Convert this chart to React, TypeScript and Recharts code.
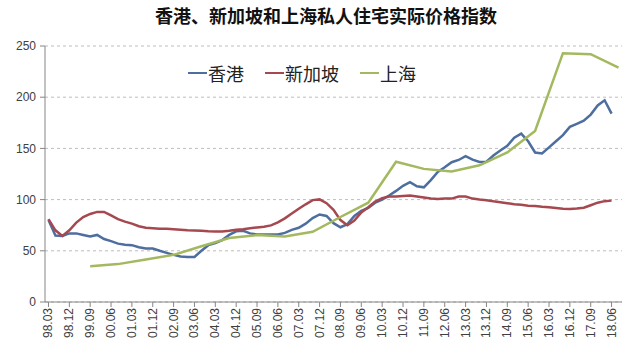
import React from 'react';
import { LineChart, Line, XAxis, YAxis, CartesianGrid } from 'recharts';

const quarters = [
  '98.03', '98.06', '98.09', '98.12', '99.03', '99.06', '99.09', '99.12',
  '00.03', '00.06', '00.09', '00.12', '01.03', '01.06', '01.09', '01.12',
  '02.03', '02.06', '02.09', '02.12', '03.03', '03.06', '03.09', '03.12',
  '04.03', '04.06', '04.09', '04.12', '05.03', '05.06', '05.09', '05.12',
  '06.03', '06.06', '06.09', '06.12', '07.03', '07.06', '07.09', '07.12',
  '08.03', '08.06', '08.09', '08.12', '09.03', '09.06', '09.09', '09.12',
  '10.03', '10.06', '10.09', '10.12', '11.03', '11.06', '11.09', '11.12',
  '12.03', '12.06', '12.09', '12.12', '13.03', '13.06', '13.09', '13.12',
  '14.03', '14.06', '14.09', '14.12', '15.03', '15.06', '15.09', '15.12',
  '16.03', '16.06', '16.09', '16.12', '17.03', '17.06', '17.09', '17.12',
  '18.03', '18.06', '18.09',
];

const tickLabels = [
  '98.03', '98.12', '99.09', '00.06', '01.03', '01.12', '02.09', '03.06',
  '04.03', '04.12', '05.09', '06.06', '07.03', '07.12', '08.09', '09.06',
  '10.03', '10.12', '11.09', '12.06', '13.03', '13.12', '14.09', '15.06',
  '16.03', '16.12', '17.09', '18.06',
];

const hongKong = [
  80, 65, 64.5, 67, 67, 65.5, 64, 65.5, 61.5, 59.5,
  57, 56, 55.5, 53.5, 52.3, 52.3, 50, 48, 46, 44.5,
  44, 44, 50, 55.5, 57.5, 60.5, 65.5, 69, 69.5, 67,
  66, 66, 66, 66, 67.5, 70.5, 72.5, 76.5, 82, 85.5,
  84, 77, 73, 76, 84, 89, 92, 97, 100, 104,
  108.5, 113.5, 117, 113, 112, 119, 127, 131.5, 136.5, 138.7,
  142.5, 139, 136.7, 137, 143, 148, 152.5, 160.5, 164.5, 157,
  146, 145, 151, 157, 163, 171, 174, 177, 183, 192,
  197, 184,
];

const singapore = [
  81, 70, 64.5, 70, 77.5, 83, 86, 88, 88, 84.5,
  81, 78.5, 76.5, 74, 72.5, 72, 71.6, 71.6, 71, 70.5,
  70, 69.8, 69.5, 69, 68.8, 68.8, 69.5, 70.5, 71, 72,
  72.8, 73.5, 74.8, 77.7, 81.7, 86.4, 91, 95.4, 99.5, 100.2,
  96.5, 90, 80, 75, 79.5, 87.5, 92.5, 98, 101.5, 103,
  103, 103.5, 104, 103, 102, 101, 100.5, 101, 101, 103,
  103, 101, 100, 99.3, 98.3, 97.5, 96.5, 95.5, 95, 94,
  93.7, 93, 92.5, 91.8, 91, 90.8, 91.2, 92, 94.5, 97,
  98.5, 99,
];

const shanghaiQuarters = [
  '99.09', '00.09', '01.09', '02.09', '03.09', '04.09', '05.09', '06.09',
  '07.09', '08.09', '09.09', '10.09', '11.09', '12.09', '13.09', '14.09',
  '15.09', '16.09', '17.09', '18.09',
];
const shanghaiValues = [
  35, 37, 41.5, 46, 54.5, 62.5, 65.4, 64, 68.5, 83,
  97, 137, 130, 127.5, 133.5, 146, 167, 243, 242, 229,
];

const yTicks = [0, 50, 100, 150, 200, 250];
const title = '香港、新加坡和上海私人住宅实际价格指数';
const series = [
  { key: 'hk', name: '香港', color: '#4D6E9E' },
  { key: 'sg', name: '新加坡', color: '#A5484F' },
  { key: 'sh', name: '上海', color: '#A3B95F' },
];

const data = quarters.map((q, i) => {
  const k = shanghaiQuarters.indexOf(q);
  return {
    i,
    q,
    hk: i < hongKong.length ? hongKong[i] : null,
    sg: i < singapore.length ? singapore[i] : null,
    sh: k >= 0 ? shanghaiValues[k] : null,
  };
});

const xTicks = tickLabels.map((l) => quarters.indexOf(l));

const XTick = (props: any) => {
  const { x, y, payload } = props;
  return (
    <text
      x={x}
      y={y}
      dy={4}
      transform={`rotate(-90 ${x} ${y})`}
      textAnchor="end"
      fontSize={12}
      fontFamily="'Liberation Sans', Arial, sans-serif"
      fill="#404040"
    >
      {quarters[payload.value]}
    </text>
  );
};

const legendPos = [188, 265, 360];

export default function App() {
  return (
    <div style={{ position: 'fixed', left: 0, top: 0, width: 640, height: 361, background: '#fff' }}>
      <div
        style={{
          position: 'absolute',
          left: 0,
          top: 3,
          width: 652,
          textAlign: 'center',
          fontFamily: "'Noto Sans CJK SC', sans-serif",
          fontWeight: 700,
          fontSize: 18,
          lineHeight: '24px',
          color: '#111',
        }}
      >
        {title}
      </div>
      <LineChart
        width={640}
        height={361}
        data={data}
        margin={{ top: 46, right: 18, bottom: 0, left: 0 }}
      >
        <CartesianGrid vertical={false} stroke="#BDBDBD" strokeDasharray="3 3" />
        <XAxis
          type="number"
          dataKey="i"
          domain={[-0.5, 82.5]}
          ticks={xTicks}
          interval={0}
          height={59}
          tick={<XTick />}
          tickSize={5}
          tickMargin={1}
          stroke="#868686"
          allowDataOverflow
        />
        <YAxis
          domain={[0, 250]}
          ticks={yTicks}
          width={45}
          tickSize={5}
          tickMargin={4}
          stroke="#868686"
          tick={{ fontSize: 12, fill: '#404040', fontFamily: "'Liberation Sans', Arial, sans-serif" }}
        />
        {series.map((s) => (
          <Line
            key={s.key}
            type="linear"
            dataKey={s.key}
            name={s.name}
            stroke={s.color}
            strokeWidth={2.5}
            dot={false}
            connectNulls
            isAnimationActive={false}
          />
        ))}
      </LineChart>
      {series.map((s, idx) => (
        <div
          key={s.key}
          style={{
            position: 'absolute',
            left: legendPos[idx],
            top: 61,
            height: 24,
            display: 'flex',
            alignItems: 'center',
            fontFamily: "'Noto Sans CJK SC', sans-serif",
            fontSize: 18,
            color: '#222',
          }}
        >
          <span style={{ display: 'inline-block', width: 19, height: 2.5, background: s.color, marginRight: 1 }} />
          {s.name}
        </div>
      ))}
    </div>
  );
}
